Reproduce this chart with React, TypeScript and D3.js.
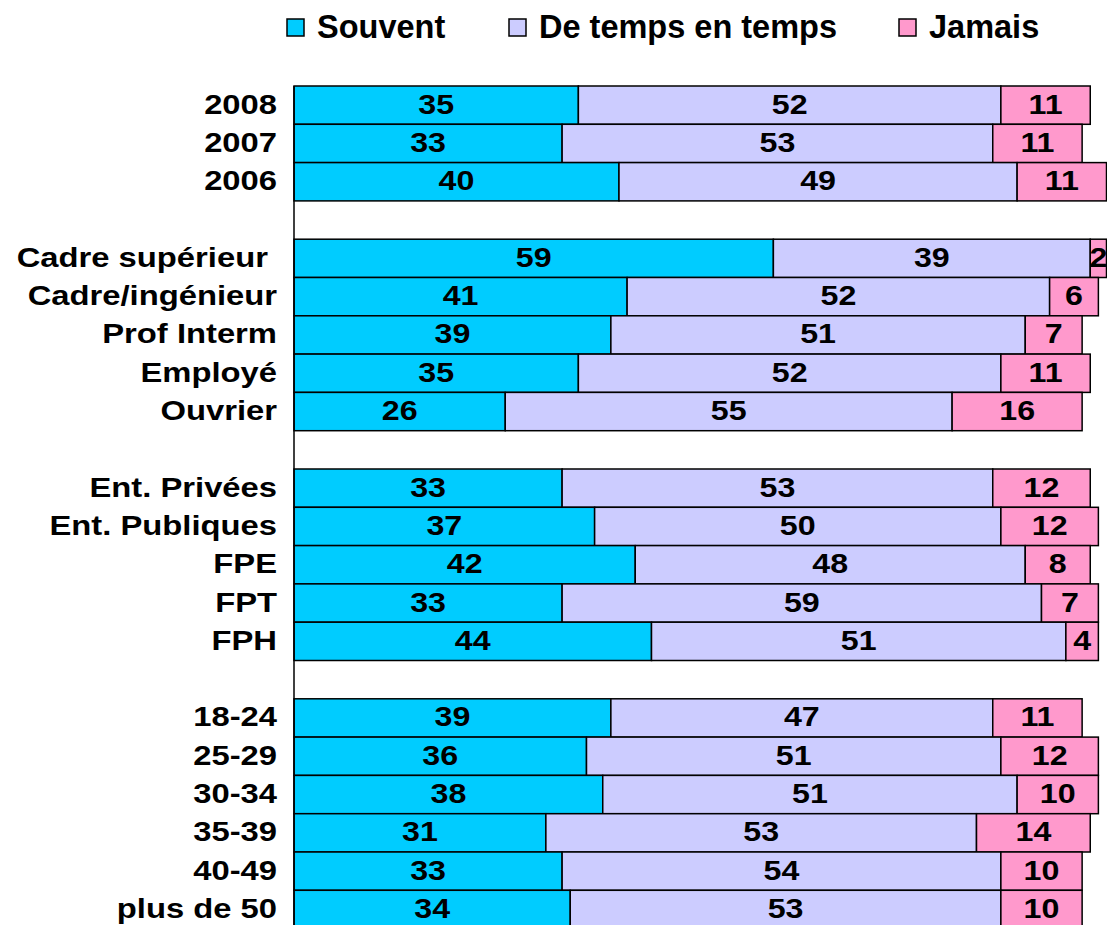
import React from "react";
import * as d3 from "d3";

const categories = [
  "2008", "2007", "2006", "",
  "Cadre supérieur ", "Cadre/ingénieur", "Prof Interm", "Employé", "Ouvrier", "",
  "Ent. Privées", "Ent. Publiques", "FPE", "FPT", "FPH", "",
  "18-24", "25-29", "30-34", "35-39", "40-49", "plus de 50",
];
const souvent = [35, 33, 40, null, 59, 41, 39, 35, 26, null, 33, 37, 42, 33, 44, null, 39, 36, 38, 31, 33, 34];
const deTemps = [52, 53, 49, null, 39, 52, 51, 52, 55, null, 53, 50, 48, 59, 51, null, 47, 51, 51, 53, 54, 53];
const jamais = [11, 11, 11, null, 2, 6, 7, 11, 16, null, 12, 12, 8, 7, 4, null, 11, 12, 10, 14, 10, 10];
const seriesNames = ["Souvent", "De temps en temps", "Jamais"];
const colors = ["#00CCFF", "#CCCCFF", "#FF99CC"];

const W = 1107, H = 925;

export default function App() {
  const keys = categories.map((c, i) => `${i}`);
  const y = d3.scaleBand<string>().domain(keys).range([86, 928.6]).padding(0);
  const x = d3.scaleLinear().domain([0, 100]).range([294, 1106.5]);
  const series = [souvent, deTemps, jamais];
  const font = "'Liberation Sans', Arial, sans-serif";
  const legendX = [287, 509, 899];
  const sx = 1.15;

  return (
    <svg width={W} height={H} style={{ display: "block", position: "absolute", left: 0, top: 0 }}>
      <rect width={W} height={H} fill="#fff" />
      {legendX.map((lx, i) => (
        <g key={i}>
          <rect x={lx} y={19} width={17} height={17} fill={colors[i]} stroke="#000" strokeWidth={1.5} />
          <text x={lx + 30} y={38} fontFamily={font} fontWeight="bold" fontSize={32.5} fill="#000">
            {seriesNames[i]}
          </text>
        </g>
      ))}
      {categories.map((cat, i) => {
        if (souvent[i] == null) return null;
        const yy = y(keys[i])!;
        const h = y.bandwidth();
        const base = yy + h / 2 + 8.5;
        let acc = 0;
        return (
          <g key={i}>
            {series.map((s, k) => {
              const v = s[i] as number;
              const x0 = x(acc);
              const x1 = x(acc + v);
              acc += v;
              return (
                <g key={k}>
                  <rect x={x0} y={yy} width={x1 - x0} height={h} fill={colors[k]} stroke="#000" strokeWidth={1.5} />
                  <text transform={`translate(${(x0 + x1) / 2},${base}) scale(${sx},1)`} textAnchor="middle" fontFamily={font} fontWeight="bold" fontSize={28} fill="#000">
                    {v}
                  </text>
                </g>
              );
            })}
            <text transform={`translate(277,${base}) scale(1.17,1)`} textAnchor="end" fontFamily={font} fontWeight="bold" fontSize={28} fill="#000" style={{ whiteSpace: "pre" }}>
              {cat}
            </text>
          </g>
        );
      })}
      <line x1={294} x2={294} y1={86} y2={928.6} stroke="#000" strokeWidth={1.5} />
    </svg>
  );
}
